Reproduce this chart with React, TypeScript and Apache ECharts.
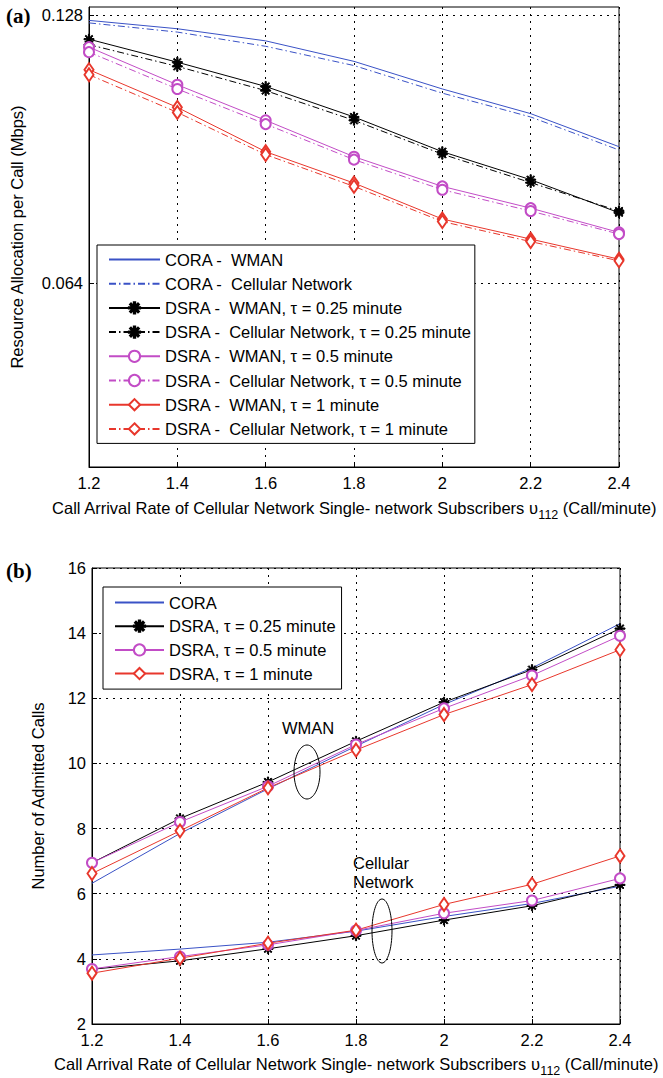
import React, { useEffect, useRef } from "react";
import * as echarts from "echarts";

// ---------- data ----------
const xValues = [1.2, 1.4, 1.6, 1.8, 2.0, 2.2, 2.4];

// (a) Resource allocation per call (Mbps)
const aCoraWman = [0.1268, 0.1248, 0.1219, 0.117, 0.1104, 0.1045, 0.0966];
const aCoraCell = [0.1262, 0.124, 0.1206, 0.116, 0.1094, 0.1037, 0.0958];
const aDsra025Wman = [0.1223, 0.1168, 0.111, 0.1037, 0.0954, 0.0887, 0.0808];
const aDsra025Cell = [0.121, 0.1158, 0.11, 0.1029, 0.0948, 0.088, 0.0812];
const aDsra05Wman = [0.1204, 0.1114, 0.1029, 0.0942, 0.0871, 0.0819, 0.0761];
const aDsra05Cell = [0.1192, 0.1104, 0.102, 0.0935, 0.0863, 0.0812, 0.0757];
const aDsra1Wman = [0.115, 0.106, 0.0954, 0.0879, 0.0793, 0.0745, 0.0697];
const aDsra1Cell = [0.1138, 0.1048, 0.0947, 0.0871, 0.0787, 0.0739, 0.0693];
const aYTicks = [0.064, 0.128];

// (b) Number of admitted calls
const bCoraWman = [6.32, 7.85, 9.22, 10.53, 11.81, 12.93, 14.29];
const bDsra025Wman = [6.95, 8.31, 9.43, 10.68, 11.88, 12.88, 14.14];
const bDsra05Wman = [6.95, 8.2, 9.3, 10.58, 11.69, 12.7, 13.92];
const bDsra1Wman = [6.62, 7.93, 9.25, 10.41, 11.5, 12.42, 13.49];
const bCoraCell = [4.12, 4.3, 4.51, 4.85, 5.3, 5.7, 6.23];
const bDsra025Cell = [3.68, 3.94, 4.31, 4.71, 5.19, 5.63, 6.27];
const bDsra05Cell = [3.69, 4.07, 4.43, 4.87, 5.4, 5.79, 6.47];
const bDsra1Cell = [3.56, 4.02, 4.48, 4.88, 5.67, 6.29, 7.16];

const namesA = [
  "CORA -  WMAN",
  "CORA -  Cellular Network",
  "DSRA -  WMAN, τ = 0.25 minute",
  "DSRA -  Cellular Network, τ = 0.25 minute",
  "DSRA -  WMAN, τ = 0.5 minute",
  "DSRA -  Cellular Network, τ = 0.5 minute",
  "DSRA -  WMAN, τ = 1 minute",
  "DSRA -  Cellular Network, τ = 1 minute",
];
const namesB = ["CORA", "DSRA, τ = 0.25 minute", "DSRA, τ = 0.5 minute", "DSRA, τ = 1 minute"];

// ---------- styles ----------
const FONT = '"Liberation Sans", Arial, Helvetica, sans-serif';
const FS = 16.5;
const BLUE = "#3a52c6";
const BLACK = "#000000";
const MAGENTA = "#c24cc6";
const RED = "#e8372c";
const DASHDOT = [7, 3, 1.5, 3];
const STAR =
  "path://M-0.6,-5L0.6,-5L0.6,5L-0.6,5Z" +
  "M-5,-0.6L5,-0.6L5,0.6L-5,0.6Z" +
  "M-3.111,-3.96L3.96,3.111L3.111,3.96L-3.96,-3.111Z" +
  "M3.111,-3.96L3.96,-3.111L-3.111,3.96L-3.96,3.111Z";

const pairs = (arr: number[]) => xValues.map((x, i) => [x, arr[i]]);

type Mk = "none" | "star" | "circle" | "diamond";
const symOf = (m: Mk) =>
  m === "none" ? "none" : m === "star" ? STAR : m === "circle" ? "emptyCircle" : "emptyDiamond";
const sizeOf = (m: Mk): any => (m === "star" ? 10 : m === "circle" ? 10 : m === "diamond" ? [9, 13] : 0);

function mkSeries(name: string, arr: number[], color: string, mk: Mk, dashed: boolean, idx: number) {
  return {
    type: "line",
    name,
    xAxisIndex: idx,
    yAxisIndex: idx,
    data: pairs(arr),
    symbol: symOf(mk),
    symbolSize: sizeOf(mk),
    showSymbol: mk !== "none",
    color,
    itemStyle: { color, borderColor: color, borderWidth: 1 },
    lineStyle: { color, width: 1, type: dashed ? DASHDOT : "solid" },
    emphasis: { disabled: true },
    silent: true,
    z: 3,
  };
}

const legendItem = (name: string, noMarker: boolean) =>
  noMarker ? { name, itemStyle: { opacity: 0 } } : { name };

const axisLabelStyle = { fontFamily: FONT, fontSize: FS, color: "#000" };
const gridLine = { show: true, lineStyle: { color: "#000", width: 1, type: [2, 5] } };

const xName = "Call Arrival Rate of Cellular Network Single- network Subscribers υ{sub|112} (Call/minute)";
const xNameStyle = {
  fontFamily: FONT,
  fontSize: FS,
  color: "#000",
  rich: { sub: { fontFamily: FONT, fontSize: 12.5, color: "#000", padding: [14, 0, 0, 0] } },
};

function buildOption() {
  const xAxisCommon = (gi: number, nameGap: number) => ({
    type: "value",
    gridIndex: gi,
    min: 1.2,
    max: 2.4,
    interval: 0.2,
    name: xName,
    nameLocation: "middle",
    nameGap,
    nameTextStyle: xNameStyle,
    axisLine: { show: true, lineStyle: { color: "#000", width: 1 } },
    axisTick: { show: true, inside: true, length: 5, lineStyle: { color: "#000" } },
    axisLabel: {
      ...axisLabelStyle,
      margin: 7,
      formatter: (v: number) => String(Math.round(v * 10) / 10),
    },
    splitLine: gridLine,
  });

  const legendCommon = {
    orient: "vertical",
    selectedMode: false,
    backgroundColor: "#fff",
    borderColor: "#000",
    borderWidth: 1,
    borderRadius: 0,
    itemHeight: 14,
    textStyle: { fontFamily: FONT, fontSize: FS, color: "#000", lineHeight: 16 },
    z: 10,
  };

  return {
    animation: false,
    backgroundColor: "#fff",
    textStyle: { fontFamily: FONT },
    grid: [
      { left: 88, top: 7, width: 531, height: 460, show: true, borderColor: "#000", borderWidth: 1, backgroundColor: "transparent" },
      { left: 92, top: 568, width: 528, height: 458, show: true, borderColor: "#000", borderWidth: 1, backgroundColor: "transparent" },
    ],
    xAxis: [xAxisCommon(0, 27), xAxisCommon(1, 26)],
    yAxis: [
      {
        type: "value",
        gridIndex: 0,
        min: 0.02,
        max: 0.13,
        name: "Resource Allocation per Call (Mbps)",
        nameLocation: "middle",
        nameGap: 64,
        nameTextStyle: { fontFamily: FONT, fontSize: FS, color: "#000" },
        axisLine: { show: true, lineStyle: { color: "#000", width: 1 } },
        axisTick: { show: true, inside: true, length: 5, customValues: aYTicks, lineStyle: { color: "#000" } },
        axisLabel: { ...axisLabelStyle, margin: 6, customValues: aYTicks, formatter: (v: number) => v.toFixed(3) },
        splitLine: gridLine,
      },
      {
        type: "value",
        gridIndex: 1,
        min: 2,
        max: 16,
        interval: 2,
        name: "Number of Admitted Calls",
        nameLocation: "middle",
        nameGap: 46,
        nameTextStyle: { fontFamily: FONT, fontSize: FS, color: "#000" },
        axisLine: { show: true, lineStyle: { color: "#000", width: 1 } },
        axisTick: { show: true, inside: true, length: 5, lineStyle: { color: "#000" } },
        axisLabel: { ...axisLabelStyle, margin: 6 },
        splitLine: gridLine,
      },
    ],
    legend: [
      {
        ...legendCommon,
        data: namesA.map((n, i) => legendItem(n, i < 2)),
        left: 97,
        top: 245,
        padding: [6, 3, 6, 11],
        itemWidth: 51,
        itemGap: 7.2,
        itemTextGap: 6,
      },
      {
        ...legendCommon,
        data: namesB.map((n, i) => legendItem(n, i === 0)),
        left: 103,
        top: 587,
        padding: [7, 6, 7, 11],
        itemWidth: 49,
        itemGap: 6.7,
        itemTextGap: 5,
      },
    ],
    series: [
      mkSeries(namesA[0], aCoraWman, BLUE, "none", false, 0),
      mkSeries(namesA[1], aCoraCell, BLUE, "none", true, 0),
      mkSeries(namesA[2], aDsra025Wman, BLACK, "star", false, 0),
      mkSeries(namesA[3], aDsra025Cell, BLACK, "star", true, 0),
      mkSeries(namesA[4], aDsra05Wman, MAGENTA, "circle", false, 0),
      mkSeries(namesA[5], aDsra05Cell, MAGENTA, "circle", true, 0),
      mkSeries(namesA[6], aDsra1Wman, RED, "diamond", false, 0),
      mkSeries(namesA[7], aDsra1Cell, RED, "diamond", true, 0),

      mkSeries(namesB[0], bCoraWman, BLUE, "none", false, 1),
      mkSeries(namesB[1], bDsra025Wman, BLACK, "star", false, 1),
      mkSeries(namesB[2], bDsra05Wman, MAGENTA, "circle", false, 1),
      mkSeries(namesB[3], bDsra1Wman, RED, "diamond", false, 1),
      mkSeries(namesB[0], bCoraCell, BLUE, "none", false, 1),
      mkSeries(namesB[1], bDsra025Cell, BLACK, "star", false, 1),
      mkSeries(namesB[2], bDsra05Cell, MAGENTA, "circle", false, 1),
      mkSeries(namesB[3], bDsra1Cell, RED, "diamond", false, 1),
    ],
    graphic: [
      { type: "text", left: 6, top: 5, style: { text: "(a)", font: 'bold 21px "Liberation Serif", "Times New Roman", serif', fill: "#000" } },
      { type: "text", left: 6, top: 560, style: { text: "(b)", font: 'bold 21px "Liberation Serif", "Times New Roman", serif', fill: "#000" } },
      { type: "text", x: 308, y: 728, style: { text: "WMAN", font: '16.5px "Liberation Sans", Arial, sans-serif', fill: "#000", align: "center", verticalAlign: "middle" } },
      { type: "ellipse", shape: { cx: 307, cy: 772, rx: 13, ry: 27 }, style: { fill: "none", stroke: "#000", lineWidth: 1 }, z: 5 },
      { type: "text", x: 353, y: 863, style: { text: "Cellular", font: '16.5px "Liberation Sans", Arial, sans-serif', fill: "#000", align: "left", verticalAlign: "middle" } },
      { type: "text", x: 353, y: 882, style: { text: "Network", font: '16.5px "Liberation Sans", Arial, sans-serif', fill: "#000", align: "left", verticalAlign: "middle" } },
      { type: "ellipse", shape: { cx: 382, cy: 931, rx: 10, ry: 32 }, style: { fill: "none", stroke: "#000", lineWidth: 1 }, z: 5 },
    ],
  };
}

export default function App() {
  const ref = useRef<HTMLDivElement>(null);
  useEffect(() => {
    if (!ref.current) return;
    const chart = echarts.init(ref.current, undefined, { renderer: "svg" });
    chart.setOption(buildOption() as any);
    return () => chart.dispose();
  }, []);
  return (
    <div
      ref={ref}
      style={{ position: "fixed", left: 0, top: 0, width: 663, height: 1078, background: "#fff" }}
    />
  );
}
